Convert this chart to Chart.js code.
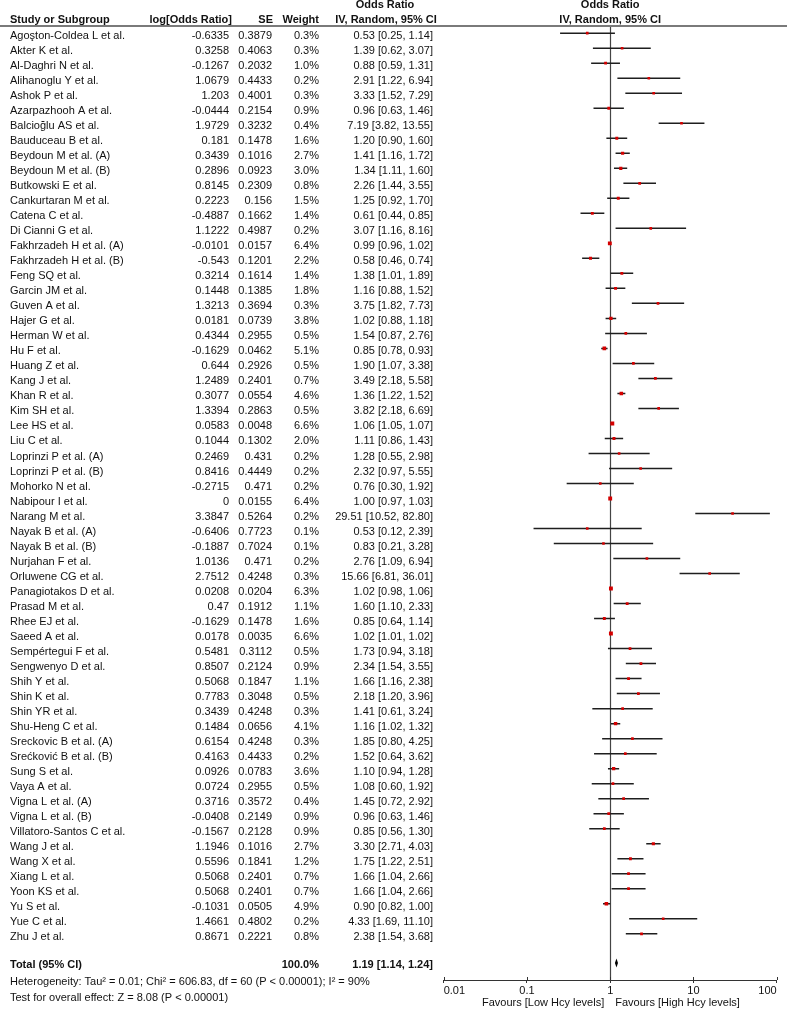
<!DOCTYPE html>
<html>
<head>
<meta charset="utf-8">
<title>Forest plot - Odds Ratio</title>
<script src="https://cdn.jsdelivr.net/npm/chart.js@4.4.1/dist/chart.umd.min.js"></script>
<style>
  html, body { margin: 0; padding: 0; background: #fff; }
  #wrap { width: 787px; height: 1009px; }
</style>
</head>
<body>
<div id="wrap"><canvas id="forest" width="787" height="1009"></canvas></div>
<script>
// study data
const studies = [
  'Agoşton-Coldea L et al.', 'Akter K et al.', 'Al-Daghri N et al.', 'Alihanoglu Y et al.', 'Ashok P et al.',
  'Azarpazhooh A et al.', 'Balcioğlu AS et al.', 'Bauduceau B et al.', 'Beydoun M et al. (A)', 'Beydoun M et al. (B)',
  'Butkowski E et al.', 'Cankurtaran M et al.', 'Catena C et al.', 'Di Cianni G et al.', 'Fakhrzadeh H et al. (A)',
  'Fakhrzadeh H et al. (B)', 'Feng SQ et al.', 'Garcin JM et al.', 'Guven A et al.', 'Hajer G et al.',
  'Herman W et al.', 'Hu F et al.', 'Huang Z et al.', 'Kang J et al.', 'Khan R et al.',
  'Kim SH et al.', 'Lee HS et al.', 'Liu C et al.', 'Loprinzi P et al. (A)', 'Loprinzi P et al. (B)',
  'Mohorko N et al.', 'Nabipour I et al.', 'Narang M et al.', 'Nayak B et al. (A)', 'Nayak B et al. (B)',
  'Nurjahan F et al.', 'Orluwene CG et al.', 'Panagiotakos D et al.', 'Prasad M et al.', 'Rhee EJ et al.',
  'Saeed A et al.', 'Sempértegui F et al.', 'Sengwenyo D et al.', 'Shih Y et al.', 'Shin K et al.',
  'Shin YR et al.', 'Shu-Heng C et al.', 'Sreckovic B et al. (A)', 'Srećković B et al. (B)', 'Sung S et al.',
  'Vaya A et al.', 'Vigna L et al. (A)', 'Vigna L et al. (B)', 'Villatoro-Santos C et al.', 'Wang J et al.',
  'Wang X et al.', 'Xiang L et al.', 'Yoon KS et al.', 'Yu S et al.', 'Yue C et al.', 'Zhu J et al.'
];
const logOR = [
  -0.6335, 0.3258, -0.1267, 1.0679, 1.203, -0.0444, 1.9729, 0.181, 0.3439, 0.2896,
  0.8145, 0.2223, -0.4887, 1.1222, -0.0101, -0.543, 0.3214, 0.1448, 1.3213, 0.0181,
  0.4344, -0.1629, 0.644, 1.2489, 0.3077, 1.3394, 0.0583, 0.1044, 0.2469, 0.8416,
  -0.2715, 0, 3.3847, -0.6406, -0.1887, 1.0136, 2.7512, 0.0208, 0.47, -0.1629,
  0.0178, 0.5481, 0.8507, 0.5068, 0.7783, 0.3439, 0.1484, 0.6154, 0.4163, 0.0926,
  0.0724, 0.3716, -0.0408, -0.1567, 1.1946, 0.5596, 0.5068, 0.5068, -0.1031, 1.4661, 0.8671
];
const se = [
  0.3879, 0.4063, 0.2032, 0.4433, 0.4001, 0.2154, 0.3232, 0.1478, 0.1016, 0.0923,
  0.2309, 0.156, 0.1662, 0.4987, 0.0157, 0.1201, 0.1614, 0.1385, 0.3694, 0.0739,
  0.2955, 0.0462, 0.2926, 0.2401, 0.0554, 0.2863, 0.0048, 0.1302, 0.431, 0.4449,
  0.471, 0.0155, 0.5264, 0.7723, 0.7024, 0.471, 0.4248, 0.0204, 0.1912, 0.1478,
  0.0035, 0.3112, 0.2124, 0.1847, 0.3048, 0.4248, 0.0656, 0.4248, 0.4433, 0.0783,
  0.2955, 0.3572, 0.2149, 0.2128, 0.1016, 0.1841, 0.2401, 0.2401, 0.0505, 0.4802, 0.2221
];
const weight = [
  0.3, 0.3, 1.0, 0.2, 0.3, 0.9, 0.4, 1.6, 2.7, 3.0,
  0.8, 1.5, 1.4, 0.2, 6.4, 2.2, 1.4, 1.8, 0.3, 3.8,
  0.5, 5.1, 0.5, 0.7, 4.6, 0.5, 6.6, 2.0, 0.2, 0.2,
  0.2, 6.4, 0.2, 0.1, 0.1, 0.2, 0.3, 6.3, 1.1, 1.6,
  6.6, 0.5, 0.9, 1.1, 0.5, 0.3, 4.1, 0.3, 0.2, 3.6,
  0.5, 0.4, 0.9, 0.9, 2.7, 1.2, 0.7, 0.7, 4.9, 0.2, 0.8
];
const oddsRatio = [
  0.53, 1.39, 0.88, 2.91, 3.33, 0.96, 7.19, 1.20, 1.41, 1.34,
  2.26, 1.25, 0.61, 3.07, 0.99, 0.58, 1.38, 1.16, 3.75, 1.02,
  1.54, 0.85, 1.90, 3.49, 1.36, 3.82, 1.06, 1.11, 1.28, 2.32,
  0.76, 1.00, 29.51, 0.53, 0.83, 2.76, 15.66, 1.02, 1.60, 0.85,
  1.02, 1.73, 2.34, 1.66, 2.18, 1.41, 1.16, 1.85, 1.52, 1.10,
  1.08, 1.45, 0.96, 0.85, 3.30, 1.75, 1.66, 1.66, 0.90, 4.33, 2.38
];
const ciLow = [
  0.25, 0.62, 0.59, 1.22, 1.52, 0.63, 3.82, 0.90, 1.16, 1.11,
  1.44, 0.92, 0.44, 1.16, 0.96, 0.46, 1.01, 0.88, 1.82, 0.88,
  0.87, 0.78, 1.07, 2.18, 1.22, 2.18, 1.05, 0.86, 0.55, 0.97,
  0.30, 0.97, 10.52, 0.12, 0.21, 1.09, 6.81, 0.98, 1.10, 0.64,
  1.01, 0.94, 1.54, 1.16, 1.20, 0.61, 1.02, 0.80, 0.64, 0.94,
  0.60, 0.72, 0.63, 0.56, 2.71, 1.22, 1.04, 1.04, 0.82, 1.69, 1.54
];
const ciHigh = [
  1.14, 3.07, 1.31, 6.94, 7.29, 1.46, 13.55, 1.60, 1.72, 1.60,
  3.55, 1.70, 0.85, 8.16, 1.02, 0.74, 1.89, 1.52, 7.73, 1.18,
  2.76, 0.93, 3.38, 5.58, 1.52, 6.69, 1.07, 1.43, 2.98, 5.55,
  1.92, 1.03, 82.80, 2.39, 3.28, 6.94, 36.01, 1.06, 2.33, 1.14,
  1.02, 3.18, 3.55, 2.38, 3.96, 3.24, 1.32, 4.25, 3.62, 1.28,
  1.92, 2.92, 1.46, 1.30, 4.03, 2.51, 2.66, 2.66, 1.00, 11.10, 3.68
];
const totalOR = 1.19;
const totalLow = 1.14;
const totalHigh = 1.24;
const totalWeight = 100.0;
const xTicks = [0.01, 0.1, 1, 10, 100];

const heterogeneityText = 'Heterogeneity: Tau² = 0.01; Chi² = 606.83, df = 60 (P < 0.00001); I² = 90%';
const overallText = 'Test for overall effect: Z = 8.08 (P < 0.00001)';

const FONT = '"Liberation Sans", Arial, Helvetica, sans-serif';
const TOTAL_ROW = 61.95;

function ciLabel(or, lo, hi) {
    return or.toFixed(2) + ' [' + lo.toFixed(2) + ', ' + hi.toFixed(2) + ']';
}

// CI whiskers, one small line dataset per study
const whiskers = studies.map((s, i) => ({
    type: 'line',
    label: s,
    data: [{ x: ciLow[i], y: i }, { x: ciHigh[i], y: i }],
    showLine: true,
    borderColor: '#1e1e1e',
    borderWidth: 1.5,
    pointRadius: 0,
    order: 2,
}));

const estimates = {
    type: 'scatter',
    label: 'Odds ratio',
    data: oddsRatio.map((v, i) => ({ x: v, y: i })),
    pointStyle: 'rect',
    pointRadius: weight.map(w => (2.6 + w * 0.2) / Math.SQRT2),
    backgroundColor: '#d40000',
    borderColor: '#d40000',
    borderWidth: 0,
    order: 1,
};

const forestTable = {
    id: 'forestTable',
    beforeDatasetsDraw(chart) {
        const { ctx, chartArea, scales: { x } } = chart;
        const x1 = Math.round(x.getPixelForValue(1)) + 0.5;
        ctx.save();
        ctx.strokeStyle = '#444';
        ctx.lineWidth = 1.2;
        ctx.beginPath();
        ctx.moveTo(x1, chartArea.top);
        ctx.lineTo(x1, chartArea.bottom);
        ctx.stroke();
        // upward half of the axis ticks
        ctx.strokeStyle = '#333';
        ctx.lineWidth = 1;
        xTicks.forEach(v => {
            const px = Math.round(x.getPixelForValue(v)) + 0.5;
            ctx.beginPath();
            ctx.moveTo(px, chartArea.bottom - 3);
            ctx.lineTo(px, chartArea.bottom);
            ctx.stroke();
        });
        ctx.restore();
    },
    afterDraw(chart) {
        const { ctx, scales: { x, y } } = chart;
        ctx.save();
        ctx.fillStyle = '#111';
        ctx.textBaseline = 'middle';

        // header
        ctx.font = 'bold 11px ' + FONT;
        ctx.textAlign = 'center';
        ctx.fillText('Odds Ratio', 385, 5);
        ctx.fillText('Odds Ratio', x.getPixelForValue(1), 5);
        ctx.fillText('IV, Random, 95% CI', 386, 19.5);
        ctx.fillText('IV, Random, 95% CI', x.getPixelForValue(1), 19.5);
        ctx.textAlign = 'left';
        ctx.fillText('Study or Subgroup', 10, 19.5);
        ctx.textAlign = 'right';
        ctx.fillText('log[Odds Ratio]', 232, 19.5);
        ctx.fillText('SE', 273, 19.5);
        ctx.fillText('Weight', 319, 19.5);

        ctx.fillStyle = '#7a7a7a';
        ctx.fillRect(0, 25, 787, 2);

        // study rows
        ctx.fillStyle = '#111';
        ctx.font = '11px ' + FONT;
        studies.forEach((s, i) => {
            const py = y.getPixelForValue(i) + 3;
            ctx.textAlign = 'left';
            ctx.fillText(s, 10, py);
            ctx.textAlign = 'right';
            ctx.fillText(String(logOR[i]), 229, py);
            ctx.fillText(String(se[i]), 272, py);
            ctx.fillText(weight[i].toFixed(1) + '%', 319, py);
            ctx.fillText(ciLabel(oddsRatio[i], ciLow[i], ciHigh[i]), 433, py);
        });

        // total row
        const ty = y.getPixelForValue(TOTAL_ROW) + 1.5;
        ctx.font = 'bold 11px ' + FONT;
        ctx.textAlign = 'left';
        ctx.fillText('Total (95% CI)', 10, ty);
        ctx.textAlign = 'right';
        ctx.fillText(totalWeight.toFixed(1) + '%', 319, ty);
        ctx.fillText(ciLabel(totalOR, totalLow, totalHigh), 433, ty);

        // summary diamond
        const dy = y.getPixelForValue(TOTAL_ROW);
        ctx.fillStyle = '#000';
        ctx.beginPath();
        ctx.moveTo(x.getPixelForValue(totalLow), dy);
        ctx.lineTo(x.getPixelForValue(totalOR), dy - 4.5);
        ctx.lineTo(x.getPixelForValue(totalHigh), dy);
        ctx.lineTo(x.getPixelForValue(totalOR), dy + 4.5);
        ctx.closePath();
        ctx.fill();

        // footnotes
        ctx.fillStyle = '#111';
        ctx.font = '11px ' + FONT;
        ctx.textAlign = 'left';
        ctx.fillText(heterogeneityText, 10, 982);
        ctx.fillText(overallText, 10, 997.5);

        const xc = x.getPixelForValue(1);
        ctx.textAlign = 'right';
        ctx.fillText('Favours [Low Hcy levels]', xc - 6, 1003);
        ctx.textAlign = 'left';
        ctx.fillText('Favours [High Hcy levels]', xc + 5, 1003);
        ctx.restore();
    }
};

new Chart(document.getElementById('forest'), {
    type: 'scatter',
    data: { datasets: [estimates, ...whiskers] },
    options: {
        responsive: false,
        animation: false,
        devicePixelRatio: 1,
        layout: { padding: { left: 443.7, right: 10.3, top: 26, bottom: 0 } },
        plugins: { legend: { display: false }, tooltip: { enabled: false } },
        scales: {
            x: {
                type: 'logarithmic',
                position: 'bottom',
                min: 0.01,
                max: 100,
                afterBuildTicks: scale => { scale.ticks = xTicks.map(v => ({ value: v })); },
                afterFit: scale => { scale.height = 29; },
                ticks: {
                    autoSkip: false,
                    maxRotation: 0,
                    align: 'inner',
                    padding: 1,
                    color: '#111',
                    font: { family: FONT, size: 11 },
                    callback: v => String(v),
                },
                grid: { drawOnChartArea: false, color: '#333', tickLength: 3 },
                border: { color: '#333', width: 1 },
            },
            y: {
                type: 'linear',
                display: false,
                reverse: true,
                min: -0.48,
                max: 63.08,
            },
        },
    },
    plugins: [forestTable],
});
</script>
</body>
</html>
